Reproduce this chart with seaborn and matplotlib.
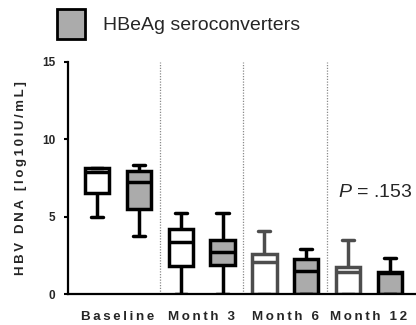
import numpy as np
import pandas as pd
import matplotlib
matplotlib.use("Agg")
import matplotlib.pyplot as plt
import seaborn as sns
from matplotlib.patches import Patch

# Visits and series
categories = ["Baseline", "Month 3", "Month 6", "Month 12"]
series = ["Non-seroconverters", "HBeAg seroconverters"]

# Five-number summaries (log10 IU/mL) per visit, non-seroconverters
non_min = [5.00, 0.00, 0.00, 0.00]
non_q1 = [6.55, 1.85, 0.00, 0.00]
non_med = [7.90, 3.38, 2.07, 1.46]
non_q3 = [8.15, 4.22, 2.60, 1.79]
non_max = [8.15, 5.23, 4.05, 3.51]

# Five-number summaries (log10 IU/mL) per visit, HBeAg seroconverters
sero_min = [3.77, 0.00, 0.00, 0.00]
sero_q1 = [5.51, 1.89, 0.00, 0.00]
sero_med = [7.22, 2.71, 1.53, 1.35]
sero_q3 = [7.93, 3.51, 2.28, 1.42]
sero_max = [8.32, 5.23, 2.90, 2.32]

p_value_label = "$\\mathit{P}$ = .153"
y_label = "HBV DNA [log10IU/mL]"

rows = []
for name, stats in [
    (series[0], (non_min, non_q1, non_med, non_q3, non_max)),
    (series[1], (sero_min, sero_q1, sero_med, sero_q3, sero_max)),
]:
    for i, visit in enumerate(categories):
        for s in stats:
            rows.append({"visit": visit, "group": name, "dna": s[i]})
df = pd.DataFrame(rows)


def spaced(text, sep="\u2009"):
    return sep.join(text)


sns.set_style("white")
plt.rcParams["font.family"] = ["Liberation Sans", "DejaVu Sans"]
plt.rcParams["mathtext.fontset"] = "custom"
plt.rcParams["mathtext.it"] = "Liberation Sans:italic"
plt.rcParams["mathtext.rm"] = "Liberation Sans"

fig = plt.figure(figsize=(4.16, 3.25), dpi=100)
ax = fig.add_axes([68 / 416, 1 - 294.3 / 325, (416 - 68) / 416, (294.3 - 61.7) / 325])

gray_fill = "#ababab"
sns.boxplot(
    data=df, x="visit", y="dna", hue="group",
    order=categories, hue_order=series,
    palette={series[0]: "white", series[1]: gray_fill},
    linecolor="black", linewidth=2.5,
    width=1.0, gap=0.42, whis=(0, 100), showfliers=False,
    legend=False, ax=ax,
)

# Later visits of the first series drawn in dark gray outlines
dark = "#4d4d4d"
cont = ax.containers[0]
for i in (2, 3):
    cont.boxes[i].set_edgecolor(dark)
    cont.medians[i].set_color(dark)
    for ln in cont.whiskers[2 * i:2 * i + 2]:
        ln.set_color(dark)
    for ln in cont.caps[2 * i:2 * i + 2]:
        ln.set_color(dark)

# Dotted separators between visits
for xv in (0.5, 1.5, 2.5):
    ax.plot([xv, xv], [0, 15], color="#8a8a8a", linestyle=(0, (1, 1.2)),
            linewidth=0.9, zorder=0)

ax.set_xlim((68 - 117.9) / 83.7, (416 - 117.9) / 83.7)
ax.set_ylim(0, 15)
ax.set_yticks([0, 5, 10, 15])
ax.set_yticklabels(["0", "5", "10", "15"], fontweight="bold", fontsize=8.5)
ax.set_xticks(range(len(categories)))
ax.set_xticklabels([spaced(c) for c in categories], fontweight="bold", fontsize=9.6)
ax.tick_params(axis="x", length=0, pad=12)
ax.tick_params(axis="y", length=3.2, width=1.5, pad=6, color="black", left=True)
ax.set_xlabel("")
ax.set_ylabel(spaced(y_label), fontweight="bold", fontsize=9.5)
ax.yaxis.set_label_coords((27 - 68) / 348, 0.5)

for side in ("top", "right"):
    ax.spines[side].set_visible(False)
for side in ("left", "bottom"):
    ax.spines[side].set_linewidth(1.6)
    ax.spines[side].set_color("black")

ax.text(338 / 416, 1 - 192.7 / 325, p_value_label, transform=fig.transFigure,
        fontsize=14, ha="left", va="center")

fig.legend(
    handles=[Patch(facecolor=gray_fill, edgecolor="black", linewidth=2.0)],
    labels=[series[1]], loc="upper left",
    bbox_to_anchor=(57 / 416, 1 - 9 / 325), frameon=False,
    fontsize=14, handlelength=1.44, handleheight=2.0, handletextpad=0.93,
    borderpad=0, borderaxespad=0,
)

fig.savefig("out.png", dpi=100)
